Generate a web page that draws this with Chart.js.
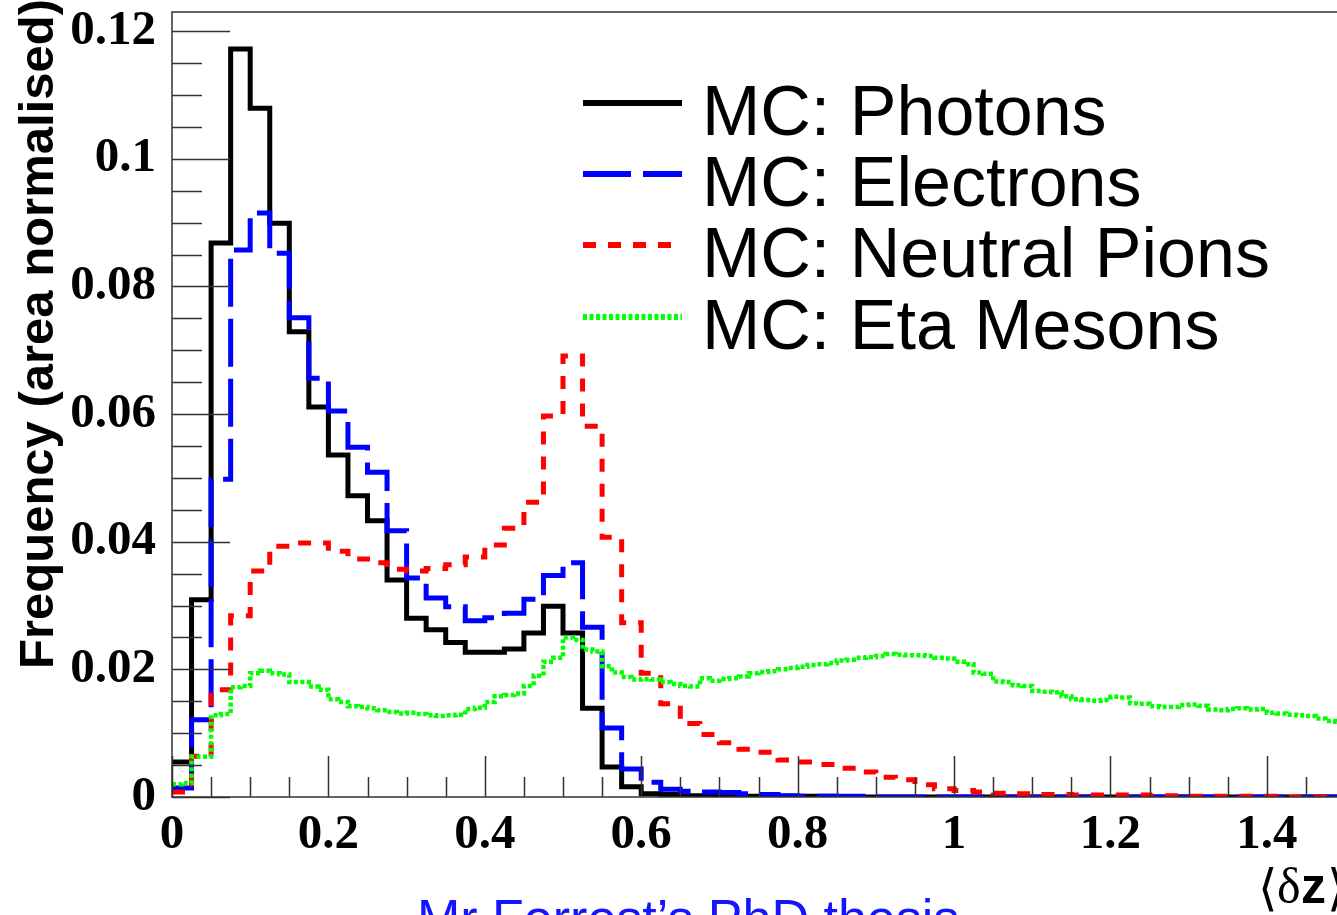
<!DOCTYPE html>
<html>
<head>
<meta charset="utf-8">
<script src="https://cdn.jsdelivr.net/npm/chart.js@4.4.1/dist/chart.umd.min.js"></script>
<style>
  html, body { margin: 0; padding: 0; background: #fff; overflow: hidden; }
  #wrap { position: relative; width: 1337px; height: 915px; overflow: hidden; }
  canvas { position: absolute; left: 0; top: 0; }
</style>
</head>
<body>
<div id="wrap"><canvas id="dz" width="1360" height="915"></canvas></div>
<script>
// histogram bins: 0.025 wide for photons / electrons / pions, 0.0125 for eta mesons
const binWidth = 0.025;
const etaBinWidth = 0.0125;
const xMin = 0, xMax = 1.5;
const yMin = 0, yMax = 0.123;

const legendLabels = ['MC: Photons', 'MC: Electrons', 'MC: Neutral Pions', 'MC: Eta Mesons'];

const photons = [
  0.0055, 0.0309, 0.0868, 0.1172, 0.1079, 0.0899, 0.0729, 0.0611, 0.0536, 0.0472,
  0.0433, 0.0340, 0.0280, 0.0262, 0.0242, 0.0227, 0.0227, 0.0232, 0.0257, 0.0299,
  0.0257, 0.0139, 0.0047, 0.0016, 0.0005, 0.0004, 0.0002, 0.0002, 0.0001, 0.0001,
  0.0001, 0.0001, 0.0001, 0.0001, 0, 0, 0, 0, 0, 0,
  0, 0, 0, 0, 0, 0, 0, 0, 0, 0,
  0, 0, 0, 0, 0, 0, 0, 0, 0, 0
];

const electrons = [
  0.0014, 0.0121, 0.0498, 0.0857, 0.0915, 0.0852, 0.0751, 0.0656, 0.0605, 0.0548,
  0.0509, 0.0417, 0.0343, 0.0312, 0.0298, 0.0276, 0.0281, 0.0288, 0.0310, 0.0347,
  0.0367, 0.0266, 0.0108, 0.0044, 0.0023, 0.0012, 0.0009, 0.0008, 0.0007, 0.0005,
  0.0004, 0.0002, 0.0001, 0.0001, 0.0001, 0.0001, 0, 0, 0, 0,
  0, 0, 0, 0, 0, 0, 0, 0, 0, 0,
  0, 0, 0, 0, 0, 0, 0, 0, 0, 0
];

const pions = [
  0.0008, 0.0064, 0.0168, 0.0284, 0.0354, 0.0393, 0.0398, 0.0398, 0.0385, 0.0373,
  0.0367, 0.0357, 0.0354, 0.0358, 0.0364, 0.0376, 0.0395, 0.0421, 0.0462, 0.0597,
  0.0691, 0.0581, 0.0407, 0.0273, 0.0194, 0.0146, 0.0115, 0.0098, 0.0085, 0.0075,
  0.0070, 0.0058, 0.0055, 0.0051, 0.0045, 0.0039, 0.0031, 0.0027, 0.0019, 0.0013,
  0.0010, 0.0008, 0.0006, 0.0005, 0.0004, 0.0004, 0.0003, 0.0003, 0.0003, 0.0003,
  0.0002, 0.0002, 0.0001, 0.0001, 0.0001, 0.0001, 0.0001, 0, 0, 0
];

const etas = [
  0.0020, 0.0022, 0.0063, 0.0063, 0.0128, 0.0130, 0.0172, 0.0174, 0.0194, 0.0198,
  0.0194, 0.0192, 0.0180, 0.0180, 0.0173, 0.0168, 0.0153, 0.0149, 0.0142, 0.0141,
  0.0139, 0.0136, 0.0133, 0.0131, 0.0132, 0.0130, 0.0128, 0.0127, 0.0128, 0.0129,
  0.0138, 0.0140, 0.0149, 0.0158, 0.0160, 0.0162, 0.0174, 0.0190, 0.0212, 0.0218,
  0.0250, 0.0246, 0.0231, 0.0228, 0.0205, 0.0195, 0.0188, 0.0184, 0.0185, 0.0184,
  0.0180, 0.0177, 0.0174, 0.0173, 0.0186, 0.0182, 0.0185, 0.0186, 0.0189, 0.0194,
  0.0196, 0.0197, 0.0200, 0.0202, 0.0204, 0.0207, 0.0208, 0.0210, 0.0214, 0.0215,
  0.0218, 0.0219, 0.0221, 0.0224, 0.0223, 0.0222, 0.0222, 0.0221, 0.0218, 0.0217,
  0.0212, 0.0208, 0.0195, 0.0193, 0.0181, 0.0180, 0.0175, 0.0174, 0.0166, 0.0165,
  0.0164, 0.0158, 0.0153, 0.0152, 0.0151, 0.0152, 0.0157, 0.0156, 0.0147, 0.0146,
  0.0142, 0.0141, 0.0141, 0.0144, 0.0145, 0.0143, 0.0137, 0.0136, 0.0138, 0.0139,
  0.0137, 0.0138, 0.0132, 0.0131, 0.0129, 0.0128, 0.0127, 0.0123, 0.0119, 0.0118
];

// one point per lower bin edge, plus the closing upper edge
function histPoints(values, width) {
  var pts = values.map(function (v, i) { return { x: i * width, y: v }; });
  pts.push({ x: values.length * width, y: values[values.length - 1] });
  return pts;
}

function tickText(v) {
  return String(+v.toFixed(2));
}

var tickFont = { family: '"Liberation Serif", "Times New Roman", serif', weight: 'bold', size: 49 };

// ROOT-like frame, inward ticks, legend and extra texts
const rootStyle = {
  id: 'rootStyle',
  afterDatasetsDraw: function (chart) {
    const ctx = chart.ctx;
    const a = chart.chartArea;
    const xs = chart.scales.x, ys = chart.scales.y;
    ctx.save();
    ctx.strokeStyle = '#333';
    ctx.lineWidth = 1.5;
    ctx.setLineDash([]);
    ctx.strokeRect(a.left, a.top, a.right - a.left, a.bottom - a.top);

    ctx.beginPath();
    for (let k = 0; k * 0.05 <= xMax + 1e-9; k++) {
      const px = Math.round(xs.getPixelForValue(k * 0.05)) + 0.5;
      const len = k % 4 === 0 ? 41 : 20;
      ctx.moveTo(px, a.bottom);
      ctx.lineTo(px, a.bottom - len);
    }
    for (let k = 0; k * 0.005 <= yMax + 1e-9; k++) {
      const py = Math.round(ys.getPixelForValue(k * 0.005)) + 0.5;
      const len = k % 4 === 0 ? 58 : 30;
      ctx.moveTo(a.left, py);
      ctx.lineTo(a.left + len, py);
    }
    ctx.stroke();
    ctx.restore();
  },
  afterDraw: function (chart) {
    const ctx = chart.ctx;
    ctx.save();

    // legend
    var legendY = [103, 174, 245, 317];
    chart.data.datasets.forEach(function (ds, i) {
      ctx.beginPath();
      ctx.strokeStyle = ds.borderColor;
      ctx.lineWidth = 6;
      ctx.lineCap = 'butt';
      ctx.setLineDash(ds.borderDash || []);
      ctx.moveTo(583, legendY[i]);
      ctx.lineTo(682, legendY[i]);
      ctx.stroke();
      ctx.setLineDash([]);
      ctx.fillStyle = '#000';
      ctx.font = '70px "Liberation Sans", Arial, sans-serif';
      ctx.textAlign = 'left';
      ctx.textBaseline = 'alphabetic';
      ctx.fillText(ds.label, 702, legendY[i] + 32);
    });

    // y axis title
    ctx.save();
    ctx.translate(53, 334);
    ctx.rotate(-Math.PI / 2);
    ctx.font = 'bold 49px "Liberation Sans", Arial, sans-serif';
    ctx.textAlign = 'center';
    ctx.textBaseline = 'alphabetic';
    ctx.fillStyle = '#000';
    ctx.fillText('Frequency (area normalised)', 0, 0);
    ctx.restore();

    // x axis title <δz>
    ctx.fillStyle = '#000';
    ctx.textAlign = 'left';
    ctx.textBaseline = 'alphabetic';
    ctx.font = '50px "DejaVu Serif", serif';
    ctx.fillText('\u27E8', 1258, 905);
    ctx.font = '50px "Liberation Serif", serif';
    ctx.fillText('\u03B4', 1277, 903);
    ctx.font = 'bold 50px "Liberation Sans", Arial, sans-serif';
    ctx.fillText('z', 1301, 903);
    ctx.font = '50px "DejaVu Serif", serif';
    ctx.fillText('\u27E9', 1327, 905);

    // source note, cut by the bottom edge
    ctx.fillStyle = '#1414ff';
    ctx.font = '52px "Liberation Sans", Arial, sans-serif';
    ctx.fillText('Mr Forrest\u2019s PhD thesis', 417, 936);
    ctx.restore();
  }
};

function noXPad(scale) {
  scale.height = 118;
  scale.paddingLeft = 0;
  scale.paddingRight = 0;
}

function noYPad(scale) {
  scale.width = 172;
  scale.paddingTop = 0;
  scale.paddingBottom = 0;
}

const canvas = document.getElementById('dz');

var chart = new Chart(canvas, {
  type: 'line',
  data: {
    datasets: [{
      label: legendLabels[0],
      data: histPoints(photons, binWidth),
      borderColor: '#000000',
      borderWidth: 5,
      order: 4
    }, {
      label: legendLabels[1],
      data: histPoints(electrons, binWidth),
      borderColor: '#0000ff',
      borderWidth: 5,
      borderDash: [48, 12],
      order: 3
    }, {
      label: legendLabels[2],
      data: histPoints(pions, binWidth),
      borderColor: '#ff0000',
      borderWidth: 5,
      borderDash: [13, 12],
      order: 2
    }, {
      label: legendLabels[3],
      data: histPoints(etas, etaBinWidth),
      borderColor: '#00ff00',
      borderWidth: 4.5,
      borderDash: [4, 2.5],
      order: 1
    }]
  },
  options: {
    responsive: false,
    animation: false,
    layout: { padding: { left: 0, top: 12, right: 15, bottom: 0 } },
    datasets: {
      line: {
        stepped: true,
        pointRadius: 0,
        fill: false,
        tension: 0,
        borderJoinStyle: 'miter',
        borderCapStyle: 'butt'
      }
    },
    plugins: {
      legend: { display: false },
      tooltip: { enabled: false }
    },
    scales: {
      x: {
        type: 'linear',
        min: xMin,
        max: xMax,
        grid: { display: false, drawTicks: false },
        border: { display: false },
        ticks: {
          stepSize: 0.2,
          includeBounds: false,
          autoSkip: false,
          maxRotation: 0,
          padding: 9,
          color: '#000',
          font: tickFont,
          callback: tickText
        },
        afterFit: noXPad
      },
      y: {
        type: 'linear',
        min: yMin,
        max: yMax,
        grid: { display: false, drawTicks: false },
        border: { display: false },
        ticks: {
          stepSize: 0.02,
          includeBounds: false,
          padding: 16,
          color: '#000',
          font: tickFont,
          callback: tickText
        },
        afterFit: noYPad
      }
    }
  },
  plugins: [rootStyle]
});
</script>
</body>
</html>
